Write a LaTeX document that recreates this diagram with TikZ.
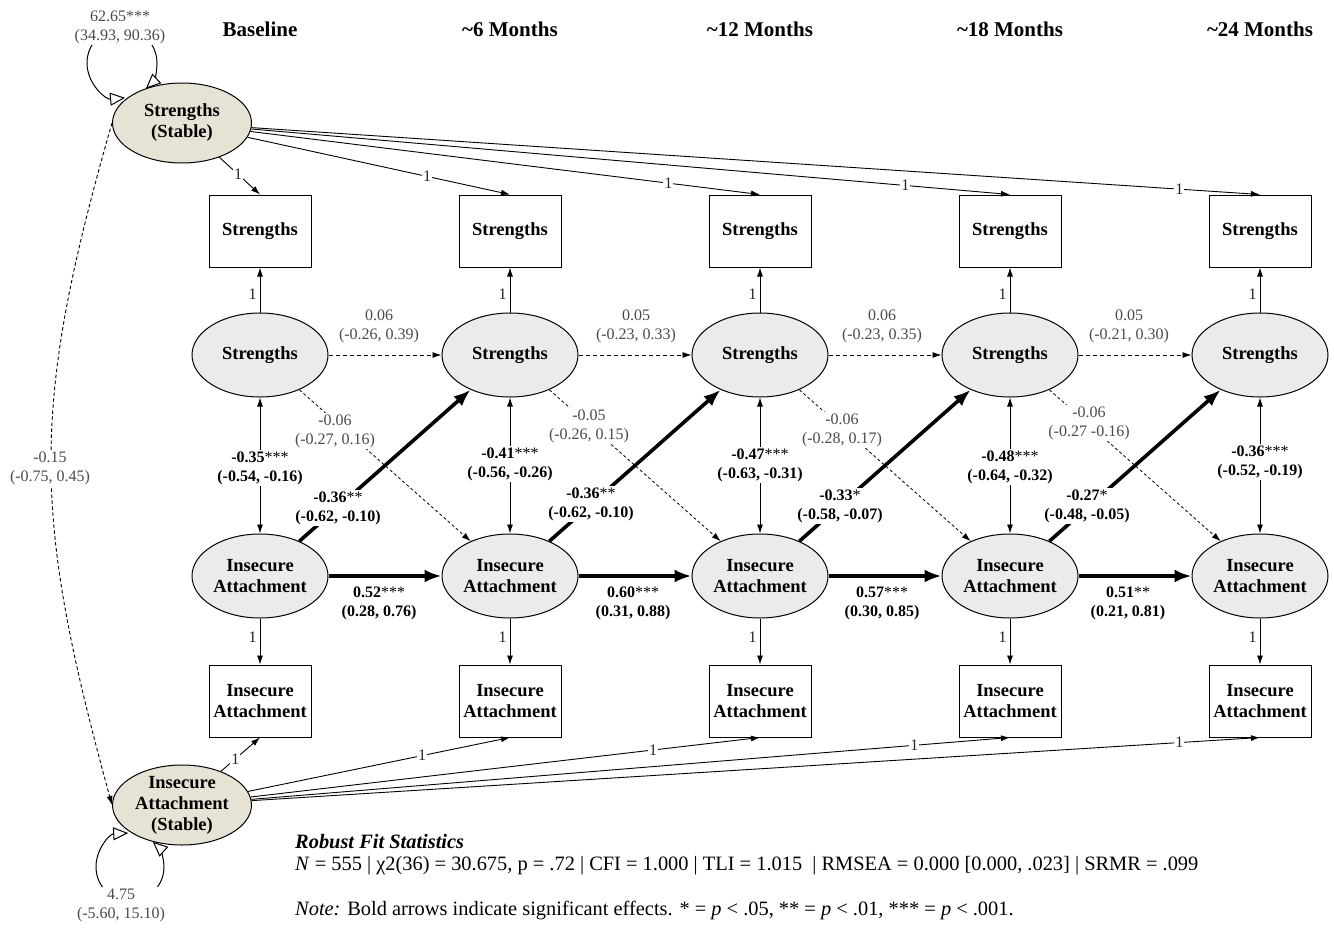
\documentclass[tikz,border=0pt]{standalone}
\usepackage{fontspec}
\setmainfont{Liberation Serif}
\usetikzlibrary{shapes.geometric,arrows.meta}
\definecolor{latfill}{HTML}{E9ECEB}
\definecolor{stabfill}{HTML}{E6E2D4}
\definecolor{lblgray}{HTML}{4A4A4A}
\begin{document}
\begin{tikzpicture}[x=1pt,y=-1pt,
  latent/.style={ellipse, draw, line width=1pt, fill=latfill, minimum width=136pt, minimum height=84pt, inner sep=0pt, align=center, font=\fontsize{18.5}{21}\selectfont\bfseries},
  stable/.style={latent, fill=stabfill, minimum width=139pt, minimum height=80pt},
  obs/.style={rectangle, draw, line width=1pt, minimum width=102pt, minimum height=72pt, inner sep=0pt, align=center, font=\fontsize{18.5}{21}\selectfont\bfseries},
  hdr/.style={font=\fontsize{21}{24}\selectfont\bfseries},
  lbl/.style={align=center, font=\fontsize{16}{19}\selectfont, text=lblgray, fill=white, inner sep=1.5pt},
  lblb/.style={lbl, text=black, font=\fontsize{16}{19}\selectfont\bfseries},
  one/.style={font=\fontsize{16}{19}\selectfont, text=black!85, fill=white, inner sep=1pt},
  onel/.style={font=\fontsize{16}{19}\selectfont, text=black!85, inner sep=1pt},
  ln/.style={line width=0.9pt, -{Latex[length=9pt,width=6pt]}},
  dbl/.style={line width=0.9pt, {Latex[length=9pt,width=6pt]}-{Latex[length=9pt,width=6pt]}},
  dashar/.style={line width=0.9pt, dash pattern=on 4pt off 3pt, -{Latex[length=9pt,width=6pt]}},
  dashx/.style={line width=0.8pt, dash pattern=on 3pt off 2.5pt, -{Latex[length=9pt,width=6pt]}},
  thk/.style={line width=3.6pt, -{Latex[length=17pt,width=13pt]}},
  varloop/.style={line width=1pt, {Triangle[open,length=15pt,width=13pt,fill=white]}-{Triangle[open,length=15pt,width=13pt,fill=white]}},
  fit/.style={font=\fontsize{20.4}{23}\selectfont, anchor=base west, inner sep=0pt}
]
\useasboundingbox (0,0) rectangle (1334,929);

% headings
\node[hdr] (H1) at (260,29) {Baseline};
\node[hdr] (H2) at (510,29) {\textasciitilde6 Months};
\node[hdr] (H3) at (760,29) {\textasciitilde12 Months};
\node[hdr] (H4) at (1010,29) {\textasciitilde18 Months};
\node[hdr] (H5) at (1260,29) {\textasciitilde24 Months};

% stable factors
\node[stable] (SS) at (182,123) {Strengths\\(Stable)};
\node[stable, inner ysep=-4pt] (IS) at (182,805) {Insecure\\Attachment\\(Stable)};

% columns
\foreach \i/\x in {1/260,2/510,3/760,4/1010,5/1260}{
  \node[obs] (B\i) at (\x,231) {Strengths};
  \node[latent] (S\i) at (\x,355) {Strengths};
  \node[latent] (I\i) at (\x,576) {Insecure\\Attachment};
  \node[obs] (J\i) at (\x,701) {Insecure\\Attachment};
}

% measurement loadings
\foreach \i in {1,...,5}{
  \draw[ln] (S\i) -- node[onel, pos=0.4, left=2pt] {1} (B\i);
  \draw[ln] (I\i) -- node[onel, pos=0.4, left=2pt] {1} (J\i);
  \draw[dbl] (S\i) -- (I\i);
}

% structural paths
\foreach \i/\j in {1/2,2/3,3/4,4/5}{
  \draw[dashar] (S\i) -- (S\j);
  \draw[dashx] (S\i) -- (I\j);
  \draw[thk] (I\i) -- (I\j);
  \draw[thk] (I\i) -- (S\j);
}

% stable loadings
\draw[ln] (SS) -- node[one, pos=0.46] {1} (B1.north);
\draw[ln] (SS) -- node[one, pos=0.684] {1} (B2.north);
\draw[ln] (SS) -- node[one, pos=0.82] {1} (B3.north);
\draw[ln] (SS) -- node[one, pos=0.862] {1} (B4.north);
\draw[ln] (SS) -- node[one, pos=0.92] {1} (B5.north);
\draw[ln] (IS) -- node[one, pos=0.37] {1} (J1.south);
\draw[ln] (IS) -- node[one, pos=0.665] {1} (J2.south);
\draw[ln] (IS) -- node[one, pos=0.79] {1} (J3.south);
\draw[ln] (IS) -- node[one, pos=0.874] {1} (J4.south);
\draw[ln] (IS) -- node[one, pos=0.92] {1} (J5.south);

% covariance of stable factors
\draw[line width=0.9pt, dash pattern=on 3.5pt off 2.5pt, -{Latex[length=9pt,width=6pt]}]
  (SS.west) .. controls (29,412) and (33,516) .. (IS.west);

% variance loops
\draw[varloop] (125.05,97.87) arc[start angle=85, end angle=407, radius=35];
\draw[varloop] (128.2,833.05) arc[start angle=267, end angle=-48, radius=34];

% labels
\node[lbl] (LVS) at (120,27) {62.65***\\(34.93, 90.36)};
\node[lbl] (LVI) at (121,905) {4.75\\(-5.60, 15.10)};
\node[lbl] (LC) at (50,468) {-0.15\\(-0.75, 0.45)};

\node[lblb] (C1) at (260,468) {-0.35{\mdseries***}\\(-0.54, -0.16)};
\node[lblb] (C2) at (510,464) {-0.41{\mdseries***}\\(-0.56, -0.26)};
\node[lblb] (C3) at (760,465) {-0.47{\mdseries***}\\(-0.63, -0.31)};
\node[lblb] (C4) at (1010,467) {-0.48{\mdseries***}\\(-0.64, -0.32)};
\node[lblb] (C5) at (1260,462) {-0.36{\mdseries***}\\(-0.52, -0.19)};

\node[lbl, fill=none] (AS1) at (379,326) {0.06\\(-0.26, 0.39)};
\node[lbl, fill=none] (AS2) at (636,326) {0.05\\(-0.23, 0.33)};
\node[lbl, fill=none] (AS3) at (882,326) {0.06\\(-0.23, 0.35)};
\node[lbl, fill=none] (AS4) at (1129,326) {0.05\\(-0.21, 0.30)};

\node[lblb, fill=none] (AI1) at (379,603) {0.52{\mdseries***}\\(0.28, 0.76)};
\node[lblb, fill=none] (AI2) at (633,603) {0.60{\mdseries***}\\(0.31, 0.88)};
\node[lblb, fill=none] (AI3) at (882,603) {0.57{\mdseries***}\\(0.30, 0.85)};
\node[lblb, fill=none] (AI4) at (1128,603) {0.51{\mdseries**}\\(0.21, 0.81)};

\node[lbl] (X1) at (335,431) {-0.06\\(-0.27, 0.16)};
\node[lbl] (X2) at (589,426) {-0.05\\(-0.26, 0.15)};
\node[lbl] (X3) at (842,430) {-0.06\\(-0.28, 0.17)};
\node[lbl] (X4) at (1089,423) {-0.06\\(-0.27 -0.16)};

\node[lblb] (Y1) at (338,508) {-0.36{\mdseries**}\\(-0.62, -0.10)};
\node[lblb] (Y2) at (591,504) {-0.36{\mdseries**}\\(-0.62, -0.10)};
\node[lblb] (Y3) at (840,506) {-0.33{\mdseries*}\\(-0.58, -0.07)};
\node[lblb] (Y4) at (1087,506) {-0.27{\mdseries*}\\(-0.48, -0.05)};

% fit statistics
\node[fit] (F1) at (295,848) {\textbf{\textit{Robust Fit Statistics}}};
\node[fit] (F2) at (295,870) {\textit{N} = 555 | χ2(36) = 30.675, p = .72 | CFI = 1.000 | TLI = 1.015 \ | RMSEA = 0.000 [0.000, .023] | SRMR = .099};
\node[fit] (F3) at (295,915) {\textit{Note:} Bold arrows indicate significant effects. * = \textit{p} < .05, ** = \textit{p} < .01, *** = \textit{p} < .001.};
\end{tikzpicture}
\end{document}
